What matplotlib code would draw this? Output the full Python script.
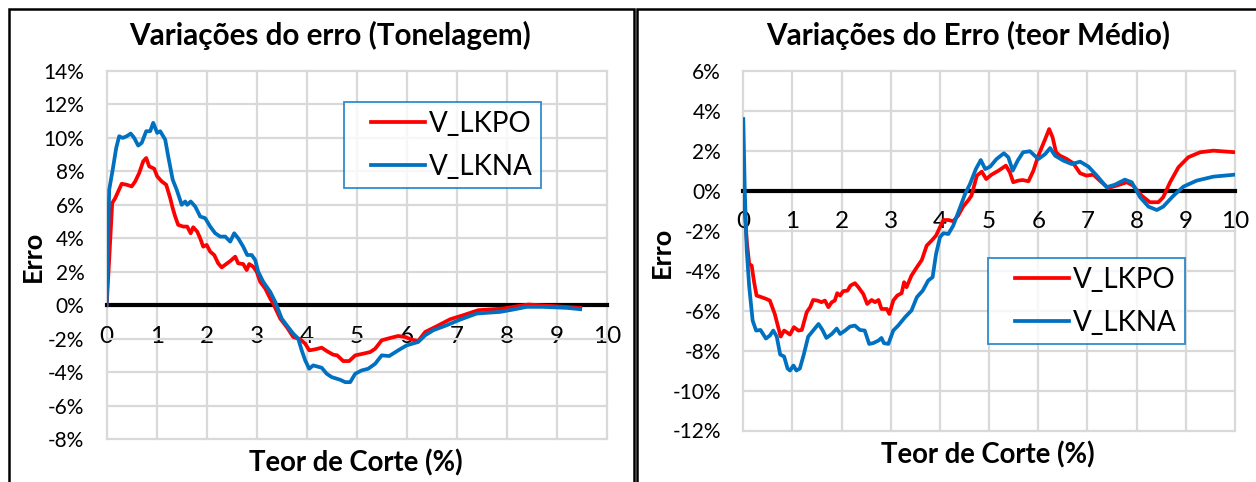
import matplotlib
matplotlib.use('Agg')
import matplotlib.pyplot as plt
from matplotlib.ticker import PercentFormatter
from matplotlib.patches import Rectangle
from matplotlib.legend_handler import HandlerLine2D

plt.rcParams['font.family'] = ['Lato', 'DejaVu Sans']
plt.rcParams['axes.unicode_minus'] = False

RED = '#FF0000'
BLUE = '#0070C0'
GRID = '#D9D9D9'

# --- Tonelagem: error (%) vs cut-off grade (%) ---
ton_lkpo_x = [0, 0.11, 0.17, 0.23, 0.3, 0.4, 0.5, 0.57, 0.65, 0.73, 0.79, 0.85, 0.95, 1.01,
              1.1, 1.19, 1.27, 1.32, 1.37, 1.43, 1.53, 1.61, 1.68, 1.73, 1.81, 1.87, 1.93,
              2.0, 2.07, 2.15, 2.23, 2.3, 2.39, 2.48, 2.57, 2.63, 2.73, 2.8, 2.85, 2.93, 3.0,
              3.07, 3.17, 3.27, 3.33, 3.47, 3.6, 3.73, 3.87, 3.97, 4.05, 4.17, 4.3, 4.4,
              4.53, 4.61, 4.73, 4.85, 4.97, 5.13, 5.27, 5.37, 5.5, 5.67, 5.83, 5.97, 6.1,
              6.23, 6.37, 6.6, 6.87, 7.13, 7.43, 7.93, 8.43, 8.87, 9.47]
ton_lkpo_y = [0, 6.1, 6.4, 6.8, 7.26, 7.2, 7.1, 7.4, 7.9, 8.6, 8.8, 8.3, 8.16, 7.7,
              7.4, 7.2, 6.4, 5.8, 5.3, 4.8, 4.7, 4.7, 4.3, 4.66, 4.4, 4.0, 3.5,
              3.6, 3.2, 3.0, 2.5, 2.26, 2.46, 2.66, 2.9, 2.5, 2.46, 2.1, 2.46, 2.3, 2.0,
              1.4, 1.0, 0.4, 0.1, -0.8, -1.3, -1.9, -2.04, -2.3, -2.7, -2.64, -2.54, -2.74,
              -2.96, -3.0, -3.34, -3.34, -3.0, -2.9, -2.8, -2.6, -2.1, -1.96, -1.84, -1.9, -2.06,
              -2.14, -1.6, -1.26, -0.84, -0.6, -0.3, -0.2, 0.04, -0.04, -0.16]

ton_lkna_x = [0, 0.05, 0.12, 0.19, 0.25, 0.32, 0.4, 0.48, 0.55, 0.63, 0.7, 0.79, 0.87, 0.93,
              1.01, 1.07, 1.17, 1.23, 1.32, 1.4, 1.5, 1.57, 1.61, 1.68, 1.77, 1.87, 1.97,
              2.07, 2.17, 2.27, 2.37, 2.47, 2.55, 2.63, 2.73, 2.81, 2.9, 2.97, 3.03, 3.13,
              3.27, 3.37, 3.5, 3.6, 3.73, 3.83, 3.9, 3.97, 4.05, 4.13, 4.3, 4.4, 4.5, 4.67,
              4.77, 4.87, 4.97, 5.1, 5.23, 5.37, 5.5, 5.65, 5.83, 6.0, 6.23, 6.37, 6.53,
              6.8, 7.07, 7.4, 7.87, 8.13, 8.4, 8.73, 9.2, 9.47]
ton_lkna_y = [0, 6.9, 8.1, 9.4, 10.1, 10.0, 10.1, 10.26, 10.0, 9.54, 9.7, 10.4, 10.4, 10.9,
              10.3, 10.4, 9.9, 8.9, 7.5, 6.9, 6.0, 6.2, 6.0, 6.2, 5.9, 5.3, 5.2,
              4.7, 4.3, 4.1, 4.1, 3.8, 4.3, 4.0, 3.5, 3.0, 3.0, 2.7, 2.0, 1.4,
              0.8, 0.2, -0.8, -1.2, -1.7, -2.0, -2.7, -3.3, -3.8, -3.6, -3.74, -4.1, -4.3, -4.46,
              -4.6, -4.6, -4.1, -3.9, -3.8, -3.5, -3.0, -3.04, -2.7, -2.4, -2.2, -1.8, -1.5,
              -1.2, -0.86, -0.5, -0.4, -0.26, -0.1, -0.1, -0.16, -0.24]

# --- Teor medio: error (%) vs cut-off grade (%) ---
teor_lkpo_x = [0, 0.07, 0.12, 0.17, 0.22, 0.27, 0.37, 0.47, 0.54, 0.64, 0.71, 0.76, 0.83,
               0.88, 0.95, 1.03, 1.12, 1.19, 1.29, 1.36, 1.42, 1.51, 1.59, 1.66, 1.73, 1.8,
               1.86, 1.91, 1.97, 2.03, 2.12, 2.18, 2.27, 2.34, 2.44, 2.52, 2.61, 2.68, 2.75,
               2.81, 2.92, 2.97, 3.05, 3.13, 3.22, 3.27, 3.32, 3.42, 3.53, 3.63, 3.73, 3.83,
               3.92, 4.0, 4.07, 4.17, 4.27, 4.37, 4.47, 4.58, 4.64, 4.75, 4.85, 4.94, 5.05,
               5.19, 5.34, 5.42, 5.49, 5.59, 5.68, 5.8, 5.9, 6.0, 6.14, 6.22, 6.29, 6.36,
               6.44, 6.58, 6.71, 6.85, 6.98, 7.12, 7.25, 7.42, 7.59, 7.8, 7.93, 8.1, 8.27,
               8.44, 8.54, 8.68, 8.85, 9.05, 9.29, 9.56, 10.0]
teor_lkpo_y = [0, -2.5, -3.67, -3.75, -4.58, -5.25, -5.33, -5.42, -5.5, -6.17, -6.83, -7.3, -7.0,
               -7.08, -7.2, -6.83, -7.0, -6.97, -6.08, -5.83, -5.47, -5.5, -5.58, -5.5, -5.83, -5.58,
               -5.5, -5.13, -5.25, -5.03, -5.0, -4.75, -4.63, -4.83, -5.17, -5.67, -5.47, -5.58, -5.47,
               -5.92, -5.92, -6.17, -5.5, -5.25, -5.13, -4.58, -4.83, -4.25, -3.83, -3.47, -2.75, -2.5,
               -2.25, -1.83, -1.47, -1.47, -1.53, -1.25, -0.8, -0.47, -0.25, 0.75, 0.95, 0.58, 0.8,
               1.0, 1.25, 0.92, 0.42, 0.5, 0.53, 0.47, 1.0, 1.75, 2.58, 3.08, 2.67, 1.92,
               1.75, 1.58, 1.37, 0.87, 0.75, 0.8, 0.5, 0.13, 0.25, 0.42, 0.25, -0.25, -0.58,
               -0.58, -0.33, 0.42, 1.17, 1.67, 1.92, 2.0, 1.92]

teor_lkna_x = [0, 0.03, 0.07, 0.12, 0.19, 0.26, 0.35, 0.46, 0.54, 0.61, 0.68, 0.75, 0.83,
               0.9, 0.95, 1.02, 1.08, 1.15, 1.23, 1.32, 1.42, 1.53, 1.61, 1.69, 1.8, 1.9,
               1.97, 2.07, 2.17, 2.27, 2.37, 2.47, 2.56, 2.64, 2.75, 2.81, 2.86, 2.95, 3.05,
               3.15, 3.29, 3.42, 3.53, 3.65, 3.76, 3.85, 3.92, 4.0, 4.07, 4.17, 4.27, 4.41,
               4.51, 4.61, 4.73, 4.83, 4.92, 5.02, 5.15, 5.3, 5.39, 5.48, 5.58, 5.69, 5.83,
               6.0, 6.14, 6.24, 6.34, 6.51, 6.68, 6.85, 7.02, 7.19, 7.39, 7.56, 7.76, 7.9,
               8.07, 8.24, 8.41, 8.54, 8.75, 8.95, 9.22, 9.56, 10.0]
teor_lkna_y = [3.58, 0, -3.0, -4.8, -6.5, -7.0, -6.97, -7.4, -7.25, -7.0, -7.3, -8.2, -8.3,
               -8.9, -9.0, -8.75, -9.0, -8.9, -8.2, -7.3, -7.0, -6.67, -6.97, -7.37, -7.17, -6.9,
               -7.17, -7.0, -6.8, -6.75, -6.97, -7.0, -7.67, -7.63, -7.5, -7.37, -7.63, -7.67, -7.0,
               -6.75, -6.33, -6.0, -5.33, -5.0, -4.5, -4.33, -3.17, -2.33, -2.13, -2.17, -1.75, -0.83,
               -0.17, 0.33, 1.08, 1.53, 1.08, 1.2, 1.58, 1.87, 1.67, 1.0, 1.5, 1.92, 1.97,
               1.58, 1.83, 2.13, 1.75, 1.5, 1.33, 1.45, 1.2, 0.75, 0.17, 0.3, 0.55, 0.42,
               -0.33, -0.8, -0.97, -0.8, -0.25, 0.2, 0.5, 0.7, 0.8]

fig = plt.figure(figsize=(12.56, 4.82), dpi=100)
W, H = 1256, 482


def fx(px):
    return px / W


def fy(py):
    return 1 - py / H


class InsetLine(HandlerLine2D):
    # legend line drawn only over the right part of the handle box
    def get_xdata(self, legend, xdescent, ydescent, width, height, fontsize):
        x0 = -xdescent + 0.25 * width
        x1 = -xdescent + width
        return [x0, x1], [x0, x1]


def setup_axes(ax, ylim, yticks):
    ax.set_xlim(0, 10)
    ax.set_ylim(*ylim)
    ax.set_xticks(range(0, 11))
    ax.set_yticks(yticks)
    ax.yaxis.set_major_formatter(PercentFormatter(100, decimals=0))
    ax.grid(True, color=GRID, lw=1.6, zorder=0)
    ax.set_axisbelow(True)
    for side in ['left', 'right', 'top']:
        ax.spines[side].set_visible(False)
    # black axis line crossing at 0%
    ax.spines['bottom'].set_position(('data', 0))
    ax.spines['bottom'].set_color('black')
    ax.spines['bottom'].set_linewidth(3)
    ax.spines['bottom'].set_zorder(2)
    ax.tick_params(axis='x', length=0, pad=15, labelsize=17.5)
    ax.tick_params(axis='y', length=0, pad=16, labelsize=15)
    for gl in ax.get_xgridlines() + ax.get_ygridlines():
        gl.set_clip_on(False)


def add_legend(ax, x0, y0):
    leg = ax.legend(loc='upper left', bbox_to_anchor=(fx(x0), fy(y0)),
                    bbox_transform=fig.transFigure, fontsize=20, frameon=True,
                    fancybox=False, handlelength=2.6, handletextpad=0.12,
                    borderpad=0.32, labelspacing=0.6, borderaxespad=0,
                    handler_map={plt.Line2D: InsetLine()})
    leg.get_frame().set_edgecolor(BLUE)
    leg.get_frame().set_linewidth(1.3)
    return leg


# Tonelagem
ax1 = fig.add_axes([fx(106.7), fy(439), fx(606.7 - 106.7), 368 / H])
setup_axes(ax1, (-8, 14), range(-8, 15, 2))
ax1.plot(ton_lkpo_x, ton_lkpo_y, color=RED, lw=2.7, label='V_LKPO', zorder=3)
ax1.plot(ton_lkna_x, ton_lkna_y, color=BLUE, lw=2.7, label='V_LKNA', zorder=3)
add_legend(ax1, 344, 102)

# Teor medio
ax2 = fig.add_axes([fx(743.3), fy(430.5), fx(1235 - 743.3), 359.8 / H])
setup_axes(ax2, (-12, 6), range(-12, 7, 2))
ax2.plot(teor_lkpo_x, teor_lkpo_y, color=RED, lw=2.7, label='V_LKPO', zorder=3)
ax2.plot(teor_lkna_x, teor_lkna_y, color=BLUE, lw=2.7, label='V_LKNA', zorder=3)
add_legend(ax2, 988, 258)

# titles and axis labels
fig.text(fx(330), fy(35), 'Variações do erro (Tonelagem)', ha='center', va='center',
         fontsize=21.3, fontweight='bold')
fig.text(fx(968), fy(35), 'Variações do Erro (teor Médio)', ha='center', va='center',
         fontsize=21.3, fontweight='bold')
fig.text(fx(356), fy(463), 'Teor de Corte (%)', ha='center', va='center',
         fontsize=19.8, fontweight='bold')
fig.text(fx(988), fy(455), 'Teor de Corte (%)', ha='center', va='center',
         fontsize=19.8, fontweight='bold')
fig.text(fx(33), fy(256), 'Erro', ha='center', va='center', rotation=90,
         fontsize=19.5, fontweight='bold')
fig.text(fx(662), fy(252), 'Erro', ha='center', va='center', rotation=90,
         fontsize=19.5, fontweight='bold')

# chart frames
fig.patches.append(Rectangle((fx(9), fy(H + 5)), fx(634 - 9), (H + 5 - 9) / H,
                             transform=fig.transFigure, fill=False, ec='black', lw=1.8))
fig.patches.append(Rectangle((fx(637), fy(H + 5)), fx(W + 5 - 637), (H + 5 - 9) / H,
                             transform=fig.transFigure, fill=False, ec='black', lw=1.8))

fig.savefig('out.png', dpi=100)
